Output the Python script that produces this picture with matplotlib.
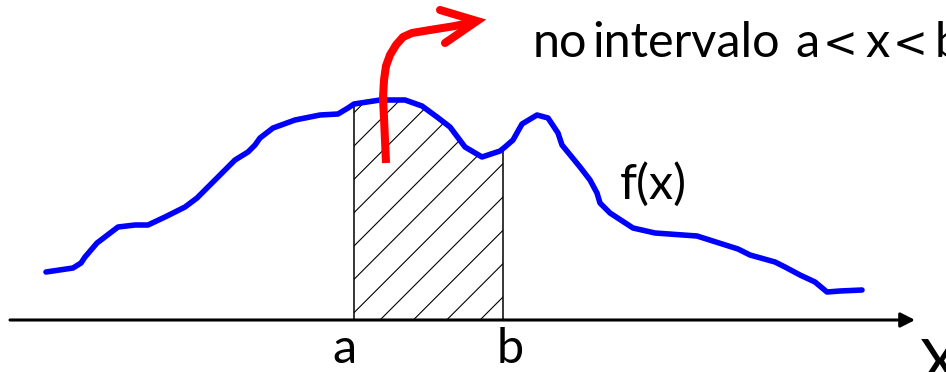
import numpy as np
import matplotlib
matplotlib.use("Agg")
import matplotlib.pyplot as plt

plt.rcParams['font.family'] = ['Lato', 'DejaVu Sans']
plt.rcParams['hatch.linewidth'] = 0.4

# curva f(x) (x em px, altura acima do eixo em px)
curve_x = [46, 73, 81, 85, 97, 118, 135, 148, 165, 185, 197, 205, 215, 235, 248, 255,
           260, 273, 295, 320, 338, 348, 354, 380, 405, 422, 437, 450, 465, 482, 500,
           505, 513, 522, 537, 548, 558, 562, 580, 590, 597, 600, 610, 633, 655, 697,
           738, 750, 775, 785, 800, 815, 827, 840, 862]
curve_y = [272, 268, 263, 257, 243, 227, 225, 225, 217, 207, 198, 190, 180, 160, 152, 145,
           138, 128, 120, 115, 114, 108, 104, 100, 100, 106, 117, 127, 147, 157, 151,
           147, 140, 124, 115, 118, 133, 145, 167, 180, 193, 203, 213, 228, 233, 236,
           249, 255, 262, 267, 275, 282, 292, 291, 290]
f_vals = 320 - np.array(curve_y)
curve_x = np.array(curve_x)

a_pos = 354
b_pos = 503

# seta vermelha
arrow_x = [386, 385, 384, 383, 384, 386, 390, 396, 403, 412, 430, 455, 477]
arrow_y = [163, 140, 118, 98, 80, 66, 55, 45, 37, 33, 30, 26, 21]
head_x = [440, 477, 445]
head_y = [10, 21, 43]

fig = plt.figure(figsize=(4.73, 1.86), dpi=200)
ax = fig.add_axes([0, 0, 1, 1])
ax.set_xlim(0, 946)
ax.set_ylim(-52, 320)
ax.axis('off')

# area hachurada entre a e b
fa = np.interp(a_pos, curve_x, f_vals)
fb = np.interp(b_pos, curve_x, f_vals)
inside = (curve_x > a_pos) & (curve_x < b_pos)
xs = np.concatenate([[a_pos], curve_x[inside], [b_pos]])
fs = np.concatenate([[fa], f_vals[inside], [fb]])
ax.fill_between(xs, 0, fs, facecolor='none', edgecolor='black', hatch='//', linewidth=0)
ax.vlines([a_pos, b_pos], 0, [fa, fb], color='black', lw=0.55)

# eixo x
ax.annotate('', xy=(915, 0), xytext=(10, 0),
            arrowprops=dict(arrowstyle='-|>,head_length=0.43,head_width=0.22',
                            lw=1.1, color='black', shrinkA=0, shrinkB=0,
                            mutation_scale=10))

ax.plot(curve_x, f_vals, color='#0000ff', lw=2.0, solid_capstyle='round',
        solid_joinstyle='round')

ax.plot(arrow_x, 320 - np.array(arrow_y), color='#ff0000', lw=2.9,
        solid_capstyle='butt', solid_joinstyle='round')
ax.plot(head_x, 320 - np.array(head_y), color='#ff0000', lw=2.9,
        solid_capstyle='round', solid_joinstyle='miter')

# textos
fs_txt = 17.5
pieces = ['no', 'intervalo', 'a', 'x', 'b']
pieces_x = [533, 592, 795, 865, 935]
for t, px in zip(pieces, pieces_x):
    ax.text(px, 320 - 57, t, fontsize=fs_txt, ha='left', va='baseline')
for px in [823, 893]:
    ax.text(px, 320 - 57, '<', fontsize=15, family='DejaVu Sans',
            ha='left', va='baseline')

ax.text(620, 320 - 199, 'f(x)', fontsize=fs_txt, ha='left', va='baseline')
ax.text(332, -43, 'a', fontsize=fs_txt, ha='left', va='baseline')
ax.text(497, -43, 'b', fontsize=fs_txt, ha='left', va='baseline')
ax.text(919, 320 - 338, 'X', fontsize=22, ha='left', va='top')

fig.savefig('out.png', dpi=200)
